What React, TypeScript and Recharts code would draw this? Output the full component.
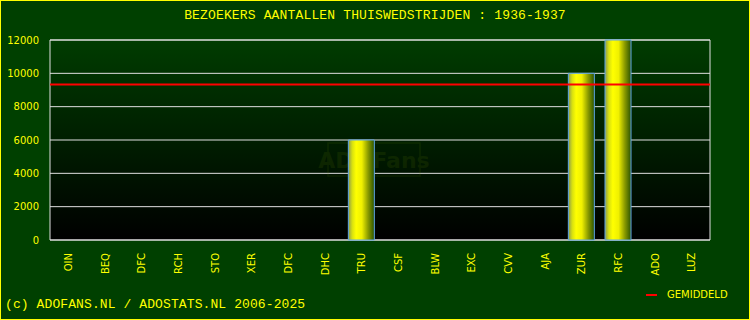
import { Bar, BarChart, CartesianGrid, ReferenceArea, ReferenceLine, XAxis, YAxis } from 'recharts'

const TITLE = 'BEZOEKERS AANTALLEN THUISWEDSTRIJDEN : 1936-1937'
const FOOTER = '(c) ADOFANS.NL / ADOSTATS.NL 2006-2025'

const opponents = [
  'OIN', 'BEQ', 'DFC', 'RCH', 'STO', 'XER', 'DFC', 'DHC', 'TRU',
  'CSF', 'BLW', 'EXC', 'CVV', 'AJA', 'ZUR', 'RFC', 'ADO', 'LUZ',
]
const visitors = [0, 0, 0, 0, 0, 0, 0, 0, 6000, 0, 0, 0, 0, 0, 10000, 12000, 0, 0]
const yTicks = [0, 2000, 4000, 6000, 8000, 10000, 12000]

const played = visitors.filter((v) => v > 0)
const average = played.reduce((a, b) => a + b, 0) / played.length

const data = opponents.map((name, i) => ({ name, visitors: visitors[i] }))

const YELLOW = '#ffff00'
const SANS = '"DejaVu Sans", Verdana, sans-serif'
const MONO = '"Liberation Mono", "DejaVu Sans Mono", monospace'

function NameTick({ x, y, payload }: { x?: number; y?: number; payload?: { value: string } }) {
  const ty = (y ?? 0) + 5
  return (
    <text
      x={x}
      y={ty}
      transform={`rotate(-90, ${x}, ${ty})`}
      textAnchor="end"
      dy="0.36em"
      fill={YELLOW}
      fontSize={10}
      fontFamily={SANS}
    >
      {payload?.value}
    </text>
  )
}

export default function App() {
  return (
    <div
      style={{
        position: 'fixed',
        left: 0,
        top: 0,
        width: 750,
        height: 320,
        background: '#004000',
        outline: '1px solid #ffff00',
        outlineOffset: -1,
        overflow: 'hidden',
      }}
    >
      <div
        style={{
          position: 'absolute',
          left: 0,
          top: 8,
          width: 750,
          textAlign: 'center',
          color: YELLOW,
          fontFamily: MONO,
          fontSize: 13,
          letterSpacing: 0.15,
          lineHeight: '16px',
        }}
      >
        {TITLE}
      </div>
      <BarChart
        width={750}
        height={320}
        data={data}
        margin={{ top: 40, right: 40, bottom: 20, left: 0 }}
      >
        <defs>
          <linearGradient id="plotBg" x1="0" y1="0" x2="0" y2="1">
            <stop offset="0%" stopColor="#003c00" />
            <stop offset="100%" stopColor="#000000" />
          </linearGradient>
          <linearGradient id="barFill" x1="0" y1="0" x2="1" y2="0">
            <stop offset="0%" stopColor="#8c9c50" />
            <stop offset="15%" stopColor="#d8e010" />
            <stop offset="30%" stopColor="#ffff00" />
            <stop offset="52%" stopColor="#f0f000" />
            <stop offset="76%" stopColor="#8a9a00" />
            <stop offset="100%" stopColor="#2c5400" />
          </linearGradient>
        </defs>
        <CartesianGrid
          vertical={false}
          stroke="#e0e0e0"
          fill="url(#plotBg)"
          fillOpacity={1}
        />
        <g opacity={0.12}>
          <rect x={328} y={143} width={92} height={33} fill="none" stroke="#6a8a00" strokeWidth={1.5} />
          <text x={374} y={168} textAnchor="middle" fill="#6a8a00" fontSize={22} fontWeight="bold" fontFamily={SANS}>
            ADOFans
          </text>
        </g>
        <XAxis
          dataKey="name"
          interval={0}
          height={60}
          tickLine={false}
          axisLine={false}
          tick={<NameTick />}
        />
        <YAxis
          width={50}
          domain={[0, 12000]}
          ticks={yTicks}
          tickLine={false}
          axisLine={false}
          tickMargin={5}
          tick={{ fill: YELLOW, fontSize: 10, fontFamily: SANS }}
        />
        <Bar
          dataKey="visitors"
          barSize={26}
          fill="url(#barFill)"
          stroke="#60a8e8"
          strokeWidth={1}
          isAnimationActive={false}
        />
        <ReferenceArea y1={0} y2={12000} fill="none" stroke="#e0e0e0" strokeWidth={1} ifOverflow="extendDomain" />
        <ReferenceLine y={average} stroke="#ff0000" strokeWidth={2} />
      </BarChart>
      <div
        style={{
          position: 'absolute',
          left: 646,
          top: 289,
          display: 'flex',
          alignItems: 'center',
          color: YELLOW,
          fontFamily: SANS,
          fontSize: 10,
        }}
      >
        <span style={{ width: 11, height: 2, background: '#ff0000', marginRight: 10 }} />
        <span>GEMIDDELD</span>
      </div>
      <div
        style={{
          position: 'absolute',
          left: 5,
          top: 297,
          color: YELLOW,
          fontFamily: MONO,
          fontSize: 13,
          letterSpacing: 0.1,
          lineHeight: '16px',
          whiteSpace: 'nowrap',
        }}
      >
        {FOOTER}
      </div>
    </div>
  )
}
